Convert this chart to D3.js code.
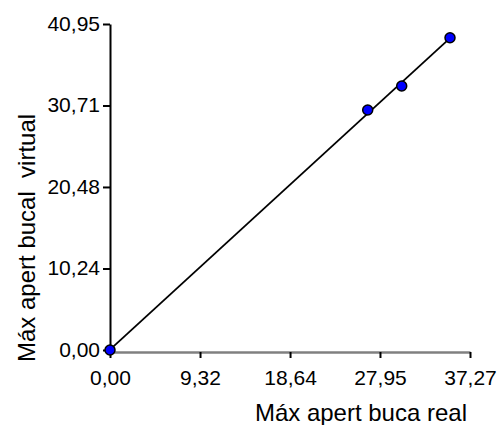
<!DOCTYPE html>
<html>
<head>
<meta charset="utf-8">
<style>
  body { margin: 0; background: #fff; }
  svg { display: block; font-family: "Liberation Sans", Arial, sans-serif; }
</style>
</head>
<body>
<svg></svg>
<script src="https://d3js.org/d3.v7.min.js"></script>
<script>

// data
var realVals    = [0.00, 26.68, 30.20, 35.20];
var virtualVals = [0.00, 30.15, 33.16, 39.23];
var xTicks = [0.00, 9.32, 18.64, 27.95, 37.27];
var yTicks = [0.00, 10.24, 20.48, 30.71, 40.95];
var xTitle = "Máx apert buca real";
var yTitle = "Máx apert bucal  virtual";

var width = 497, height = 425;

var svg = d3.select("svg")
    .attr("width", width)
    .attr("height", height);

var x = d3.scaleLinear().domain([0, 37.27]).range([110, 470]);
var y = d3.scaleLinear().domain([0, 40.95]).range([350, 24]);

var fmt = function(d) { return d3.format(".2f")(d).replace(".", ","); };

var data = realVals.map(function(v, i) { return {x: v, y: virtualVals[i]}; });

// least squares fit line
var mx = d3.mean(data, function(d) { return d.x; }),
    my = d3.mean(data, function(d) { return d.y; });
var slope = d3.sum(data, function(d) { return (d.x - mx) * (d.y - my); }) /
            d3.sum(data, function(d) { return (d.x - mx) * (d.x - mx); });
var icpt = my - slope * mx;
var x0 = d3.min(realVals), x1 = d3.max(realVals);

// x axis (grey line, black ticks)
var xAxis = svg.append("g")
    .attr("transform", "translate(0,352)")
    .call(d3.axisBottom(x).tickValues(xTicks).tickFormat(fmt).tickSize(6).tickSizeOuter(0));
xAxis.select(".domain").attr("stroke", "#808080").attr("stroke-width", 2.5);
xAxis.selectAll(".tick line").attr("stroke", "#000").attr("stroke-width", 2);
xAxis.selectAll(".tick text")
    .attr("fill", "#000")
    .attr("y", 18)
    .style("font-size", "21px")
    .style("font-family", "Liberation Sans, Arial, sans-serif");

// y axis
var yAxis = svg.append("g")
    .attr("transform", "translate(110,0)")
    .call(d3.axisLeft(y).tickValues(yTicks).tickFormat(fmt).tickSize(7).tickSizeOuter(0));
yAxis.select(".domain").attr("stroke", "#000").attr("stroke-width", 2);
yAxis.selectAll(".tick line").attr("stroke", "#000").attr("stroke-width", 2);
yAxis.selectAll(".tick text")
    .attr("fill", "#000")
    .attr("x", -10)
    .attr("dy", "0.3em")
    .style("font-size", "21px")
    .style("font-family", "Liberation Sans, Arial, sans-serif");

// fit line
svg.append("line")
    .attr("x1", x(x0)).attr("y1", y(icpt + slope * x0))
    .attr("x2", x(x1)).attr("y2", y(icpt + slope * x1))
    .attr("stroke", "#000")
    .attr("stroke-width", 1.8);

// points
svg.selectAll("circle.pt")
    .data(data)
  .enter().append("circle")
    .attr("class", "pt")
    .attr("cx", function(d) { return x(d.x); })
    .attr("cy", function(d) { return y(d.y); })
    .attr("r", 5)
    .attr("fill", "#0000ff")
    .attr("stroke", "#000")
    .attr("stroke-width", 1.5);

// axis titles
svg.append("text")
    .attr("x", 467)
    .attr("y", 421)
    .attr("text-anchor", "end")
    .style("font-size", "24px")
    .text(xTitle);

svg.append("text")
    .attr("transform", "translate(35,362) rotate(-90)")
    .attr("text-anchor", "start")
    .attr("xml:space", "preserve")
    .style("white-space", "pre")
    .style("font-size", "24px")
    .text(yTitle);

</script>
</body>
</html>
